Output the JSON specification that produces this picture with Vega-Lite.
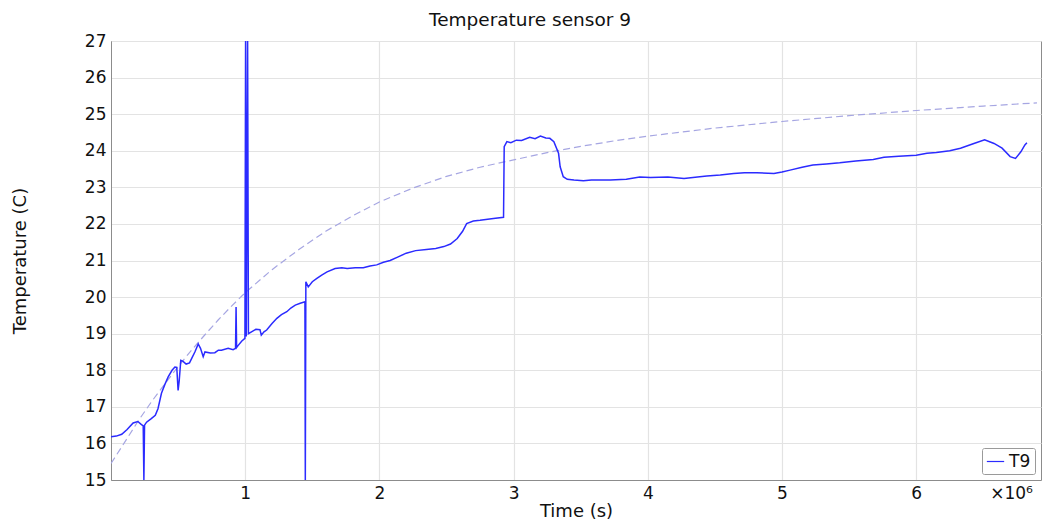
{
  "$schema": "https://vega.github.io/schema/vega-lite/v6.json",
  "width": 930,
  "height": 439,
  "autosize": "none",
  "padding": {"left": 111, "top": 41, "right": 2, "bottom": 42},
  "background": "white",
  "title": {"text": "Temperature sensor 9", "font": "DejaVu Sans", "fontSize": 18.5, "fontWeight": "normal", "color": "#111", "anchor": "middle", "dx": -46, "offset": 3},
  "config": {
    "view": {"stroke": "#8c8c8c", "strokeWidth": 1},
    "axis": {"labelFont": "DejaVu Sans", "titleFont": "DejaVu Sans", "labelFontSize": 17, "titleFontSize": 18, "titleFontWeight": "normal", "labelColor": "#111", "titleColor": "#111", "gridColor": "#e3e3e3", "gridWidth": 1.2, "domainColor": "#8c8c8c", "ticks": false, "labelOverlap": false}
  },
  "datasets": {
    "t9": [
      {"t": 0.0, "T": 16.18}, {"t": 0.04, "T": 16.2}, {"t": 0.08, "T": 16.25}, {"t": 0.12, "T": 16.38},
      {"t": 0.165, "T": 16.56}, {"t": 0.2, "T": 16.6}, {"t": 0.225, "T": 16.52}, {"t": 0.24, "T": 16.48},
      {"t": 0.245, "T": 15.0}, {"t": 0.25, "T": 16.5}, {"t": 0.265, "T": 16.58}, {"t": 0.3, "T": 16.68},
      {"t": 0.33, "T": 16.77}, {"t": 0.35, "T": 16.95}, {"t": 0.376, "T": 17.37}, {"t": 0.4, "T": 17.6},
      {"t": 0.426, "T": 17.82}, {"t": 0.455, "T": 18.0}, {"t": 0.476, "T": 18.09}, {"t": 0.49, "T": 18.08},
      {"t": 0.5, "T": 17.45}, {"t": 0.508, "T": 17.7}, {"t": 0.52, "T": 18.27}, {"t": 0.535, "T": 18.25},
      {"t": 0.56, "T": 18.17}, {"t": 0.585, "T": 18.2}, {"t": 0.605, "T": 18.35}, {"t": 0.625, "T": 18.5},
      {"t": 0.65, "T": 18.72}, {"t": 0.667, "T": 18.6}, {"t": 0.687, "T": 18.37}, {"t": 0.7, "T": 18.5},
      {"t": 0.74, "T": 18.47}, {"t": 0.774, "T": 18.48}, {"t": 0.8, "T": 18.55}, {"t": 0.823, "T": 18.55},
      {"t": 0.873, "T": 18.6}, {"t": 0.91, "T": 18.56}, {"t": 0.928, "T": 18.6}, {"t": 0.932, "T": 19.73},
      {"t": 0.936, "T": 18.62}, {"t": 0.948, "T": 18.68}, {"t": 0.975, "T": 18.8}, {"t": 0.998, "T": 18.87},
      {"t": 1.003, "T": 27.0}, {"t": 1.008, "T": 18.92}, {"t": 1.018, "T": 27.0}, {"t": 1.024, "T": 19.0},
      {"t": 1.047, "T": 19.05}, {"t": 1.08, "T": 19.12}, {"t": 1.11, "T": 19.11}, {"t": 1.12, "T": 18.96},
      {"t": 1.14, "T": 19.05}, {"t": 1.16, "T": 19.1}, {"t": 1.2, "T": 19.28}, {"t": 1.236, "T": 19.42},
      {"t": 1.27, "T": 19.52}, {"t": 1.31, "T": 19.6}, {"t": 1.34, "T": 19.7}, {"t": 1.373, "T": 19.78},
      {"t": 1.41, "T": 19.83}, {"t": 1.445, "T": 19.87}, {"t": 1.448, "T": 15.0}, {"t": 1.452, "T": 20.42},
      {"t": 1.47, "T": 20.28}, {"t": 1.5, "T": 20.42}, {"t": 1.534, "T": 20.51}, {"t": 1.57, "T": 20.6},
      {"t": 1.61, "T": 20.69}, {"t": 1.67, "T": 20.78}, {"t": 1.72, "T": 20.8}, {"t": 1.76, "T": 20.78},
      {"t": 1.82, "T": 20.8}, {"t": 1.88, "T": 20.8}, {"t": 1.93, "T": 20.85}, {"t": 1.98, "T": 20.88},
      {"t": 2.03, "T": 20.95}, {"t": 2.08, "T": 21.0}, {"t": 2.14, "T": 21.1}, {"t": 2.2, "T": 21.2},
      {"t": 2.27, "T": 21.27}, {"t": 2.35, "T": 21.3}, {"t": 2.42, "T": 21.33}, {"t": 2.48, "T": 21.38},
      {"t": 2.53, "T": 21.45}, {"t": 2.58, "T": 21.6}, {"t": 2.62, "T": 21.8}, {"t": 2.65, "T": 22.01},
      {"t": 2.7, "T": 22.08}, {"t": 2.75, "T": 22.1}, {"t": 2.85, "T": 22.15}, {"t": 2.925, "T": 22.18},
      {"t": 2.93, "T": 24.11}, {"t": 2.95, "T": 24.25}, {"t": 2.98, "T": 24.22}, {"t": 3.02, "T": 24.29},
      {"t": 3.06, "T": 24.28}, {"t": 3.12, "T": 24.37}, {"t": 3.16, "T": 24.33}, {"t": 3.2, "T": 24.4},
      {"t": 3.24, "T": 24.35}, {"t": 3.27, "T": 24.34}, {"t": 3.3, "T": 24.25}, {"t": 3.335, "T": 23.93},
      {"t": 3.347, "T": 23.56}, {"t": 3.37, "T": 23.29}, {"t": 3.4, "T": 23.22}, {"t": 3.45, "T": 23.2},
      {"t": 3.52, "T": 23.18}, {"t": 3.58, "T": 23.2}, {"t": 3.645, "T": 23.2}, {"t": 3.72, "T": 23.2},
      {"t": 3.84, "T": 23.22}, {"t": 3.94, "T": 23.28}, {"t": 4.02, "T": 23.27}, {"t": 4.15, "T": 23.28},
      {"t": 4.27, "T": 23.24}, {"t": 4.37, "T": 23.28}, {"t": 4.44, "T": 23.31}, {"t": 4.54, "T": 23.34},
      {"t": 4.64, "T": 23.38}, {"t": 4.72, "T": 23.4}, {"t": 4.81, "T": 23.4}, {"t": 4.94, "T": 23.38},
      {"t": 5.0, "T": 23.42}, {"t": 5.06, "T": 23.47}, {"t": 5.15, "T": 23.55}, {"t": 5.23, "T": 23.61},
      {"t": 5.33, "T": 23.64}, {"t": 5.43, "T": 23.67}, {"t": 5.55, "T": 23.72}, {"t": 5.68, "T": 23.76},
      {"t": 5.76, "T": 23.82}, {"t": 5.87, "T": 23.85}, {"t": 6.0, "T": 23.88}, {"t": 6.08, "T": 23.93},
      {"t": 6.15, "T": 23.95}, {"t": 6.25, "T": 24.0}, {"t": 6.33, "T": 24.07}, {"t": 6.43, "T": 24.2},
      {"t": 6.51, "T": 24.3}, {"t": 6.58, "T": 24.2}, {"t": 6.64, "T": 24.07}, {"t": 6.7, "T": 23.84},
      {"t": 6.74, "T": 23.79}, {"t": 6.78, "T": 23.97}, {"t": 6.81, "T": 24.16}, {"t": 6.825, "T": 24.22}
    ],
    "fit": [
      {"t": 0.0, "T": 15.45}, {"t": 0.1, "T": 16.02}, {"t": 0.2, "T": 16.6}, {"t": 0.3, "T": 17.13},
      {"t": 0.4, "T": 17.62}, {"t": 0.5, "T": 18.1}, {"t": 0.6, "T": 18.55}, {"t": 0.7, "T": 18.97},
      {"t": 0.8, "T": 19.38}, {"t": 0.9, "T": 19.76}, {"t": 1.0, "T": 20.12}, {"t": 1.2, "T": 20.75},
      {"t": 1.4, "T": 21.3}, {"t": 1.6, "T": 21.8}, {"t": 1.8, "T": 22.22}, {"t": 2.0, "T": 22.6},
      {"t": 2.25, "T": 22.98}, {"t": 2.5, "T": 23.3}, {"t": 2.75, "T": 23.55}, {"t": 3.0, "T": 23.75},
      {"t": 3.25, "T": 23.95}, {"t": 3.5, "T": 24.12}, {"t": 3.75, "T": 24.27}, {"t": 4.0, "T": 24.4},
      {"t": 4.5, "T": 24.62}, {"t": 5.0, "T": 24.8}, {"t": 5.5, "T": 24.96}, {"t": 6.0, "T": 25.1},
      {"t": 6.5, "T": 25.22}, {"t": 6.9, "T": 25.31}
    ],
    "unit": [{"t": 6.71, "T": 14.62, "label": "×10⁶"}]
  },
  "layer": [
    {
      "data": {"name": "fit"},
      "mark": {"type": "line", "color": "#a6a6e2", "strokeWidth": 1.2, "strokeDash": [7, 4], "clip": true},
      "encoding": {
        "x": {"field": "t", "type": "quantitative", "scale": {"domain": [0, 6.93], "nice": false, "zero": false},
          "axis": {"values": [1, 2, 3, 4, 5, 6], "tickCount": 30, "format": "d", "title": "Time (s)", "labelPadding": 5, "titlePadding": 1, "grid": true, "labelFlush": false, "labelOverlap": false}},
        "y": {"field": "T", "type": "quantitative", "scale": {"domain": [15, 27], "nice": false, "zero": false},
          "axis": {"values": [15, 16, 17, 18, 19, 20, 21, 22, 23, 24, 25, 26, 27], "tickCount": 30, "format": "d", "title": "Temperature (C)", "labelPadding": 5, "titlePadding": 55, "grid": true, "labelFlush": false, "labelOverlap": false, "labelBound": false}}
      }
    },
    {
      "data": {"name": "t9"},
      "mark": {"type": "line", "strokeWidth": 1.5, "clip": true},
      "encoding": {
        "x": {"field": "t", "type": "quantitative"},
        "y": {"field": "T", "type": "quantitative"},
        "color": {"datum": "T9", "type": "nominal",
          "scale": {"domain": ["T9"], "range": ["#2b2bff"]},
          "legend": {"title": null, "orient": "bottom-right", "offset": 6, "symbolType": "stroke", "symbolStrokeWidth": 1.2, "symbolSize": 300, "symbolStrokeColor": "#7b7bff", "labelFont": "DejaVu Sans", "labelFontSize": 17, "labelColor": "#111", "strokeColor": "#9a9a9a", "fillColor": "white", "padding": 4, "cornerRadius": 2}}
      }
    },
    {
      "data": {"name": "unit"},
      "mark": {"type": "text", "font": "DejaVu Sans", "fontSize": 17, "color": "#111", "baseline": "middle", "align": "center"},
      "encoding": {
        "x": {"field": "t", "type": "quantitative"},
        "y": {"field": "T", "type": "quantitative"},
        "text": {"field": "label"}
      }
    }
  ]
}
